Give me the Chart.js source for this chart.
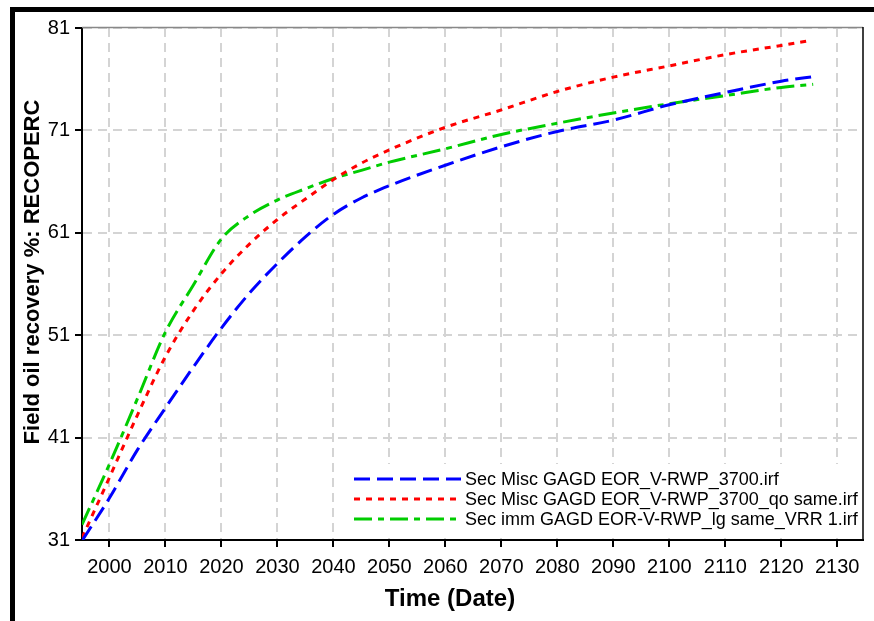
<!DOCTYPE html>
<html>
<head>
<meta charset="utf-8">
<script src="https://cdn.jsdelivr.net/npm/chart.js@4/dist/chart.umd.min.js"></script>
<style>
  html, body { margin: 0; padding: 0; background: #fff; }
  #wrap { position: relative; width: 874px; height: 621px; overflow: hidden; }
  #chart { display: block; }
  /* thick black frame, left and top edges only */
  #frame { position: absolute; left: 10px; top: 7px; right: 0; bottom: 0;
           border-left: 5px solid #000; border-top: 5px solid #000; pointer-events: none; }
</style>
</head>
<body>
<div id="wrap">
  <canvas id="chart" width="874" height="621"></canvas>
  <div id="frame"></div>
</div>
<script>
// ---- data ----
const seriesLabels = [
  'Sec Misc GAGD EOR_V-RWP_3700.irf',
  'Sec Misc GAGD EOR_V-RWP_3700_qo same.irf',
  'Sec imm GAGD EOR-V-RWP_lg same_VRR 1.irf'
];

const blueYears  = [1995.2, 2000, 2005, 2010, 2015, 2020, 2025, 2030, 2035, 2040, 2045, 2050, 2060, 2070, 2080, 2090, 2100, 2110, 2120, 2126.3];
const blueValues = [31.0, 35.1, 39.8, 43.9, 47.9, 51.7, 55.1, 58.0, 60.6, 62.8, 64.4, 65.6, 67.6, 69.4, 70.9, 72.0, 73.5, 74.7, 75.8, 76.3];

const redYears  = [1995.1, 2000, 2005, 2010, 2015, 2020, 2025, 2030, 2035, 2040, 2045, 2050, 2060, 2070, 2080, 2090, 2100, 2110, 2120, 2125.4];
const redValues = [31.2, 37.1, 43.2, 48.9, 53.4, 57.0, 59.9, 62.3, 64.3, 66.2, 67.8, 69.1, 71.3, 73.0, 74.8, 76.2, 77.3, 78.4, 79.3, 79.8];

const greenYears  = [1995.1, 2000, 2005, 2010, 2015, 2020, 2025, 2030, 2035, 2040, 2045, 2050, 2060, 2070, 2080, 2090, 2100, 2110, 2120, 2125.7];
const greenValues = [32.5, 38.4, 44.8, 51.3, 55.9, 60.4, 62.7, 64.2, 65.3, 66.3, 67.1, 67.9, 69.2, 70.6, 71.7, 72.7, 73.6, 74.4, 75.2, 75.5];

const xTickYears  = [2000, 2010, 2020, 2030, 2040, 2050, 2060, 2070, 2080, 2090, 2100, 2110, 2120, 2130];
const yTickValues = [31, 41, 51, 61, 71, 81];

const xTitle = 'Time (Date)';
const yTitle = 'Field oil recovery %: RECOPERC';

const FONT = '"Liberation Sans", Arial, sans-serif';
Chart.defaults.font.family = FONT;
Chart.defaults.color = '#000';

function toPoints(xs, ys) {
  return xs.map((x, i) => ({ x: x, y: ys[i] }));
}

// white legend box sitting inside the plot, bottom right
const legendInPlot = {
  id: 'legendInPlot',
  beforeDatasetsDraw(chart) {
    const { ctx, chartArea } = chart;
    ctx.save();
    ctx.fillStyle = '#fff';
    ctx.fillRect(342, 464, chartArea.right - 342 - 1, chartArea.bottom - 464 - 2);
    ctx.restore();
  },
  afterDatasetsDraw(chart) {
    const ctx = chart.ctx;
    ctx.save();
    ctx.font = '18px ' + FONT;
    ctx.textBaseline = 'middle';
    ctx.textAlign = 'left';
    chart.data.datasets.forEach((ds, i) => {
      const y = 479 + i * 20;
      ctx.strokeStyle = ds.borderColor;
      ctx.lineWidth = ds.borderWidth;
      ctx.setLineDash(ds.borderDash);
      ctx.beginPath();
      ctx.moveTo(354, y);
      ctx.lineTo(461, y);
      ctx.stroke();
      ctx.fillStyle = '#000';
      ctx.fillText(ds.label, 465, y + 1);
    });
    ctx.restore();
  }
};

// plot frame (top / right) and the two axis titles
const frameAndTitles = {
  id: 'frameAndTitles',
  afterDraw(chart) {
    const { ctx, chartArea } = chart;
    ctx.save();
    ctx.setLineDash([]);
    ctx.strokeStyle = '#888';
    ctx.lineWidth = 1.5;
    ctx.beginPath();
    ctx.moveTo(chartArea.left, chartArea.top - 0.5);
    ctx.lineTo(chartArea.right, chartArea.top - 0.5);
    ctx.stroke();
    ctx.strokeStyle = '#000';
    ctx.lineWidth = 1.5;
    ctx.beginPath();
    ctx.moveTo(chartArea.right, chartArea.top - 1);
    ctx.lineTo(chartArea.right, chartArea.bottom);
    ctx.stroke();

    ctx.fillStyle = '#000';
    ctx.textAlign = 'center';
    ctx.textBaseline = 'middle';
    ctx.font = 'bold 24px ' + FONT;
    ctx.fillText(xTitle, 450, 599);
    ctx.translate(33, 272);
    ctx.rotate(-Math.PI / 2);
    ctx.font = 'bold 22px ' + FONT;
    ctx.fillText(yTitle, 0, 0);
    ctx.restore();
  }
};

const gridStyle = {
  color: '#d4d4d4',
  lineWidth: 2,
  tickLength: 7,
  tickColor: '#000',
  tickWidth: 2,
  tickBorderDash: []
};

new Chart(document.getElementById('chart'), {
  type: 'line',
  data: {
    datasets: [
      {
        label: seriesLabels[0],
        data: toPoints(blueYears, blueValues),
        borderColor: '#0000ff',
        borderWidth: 3,
        borderDash: [16, 7],
        pointRadius: 0,
        cubicInterpolationMode: 'monotone'
      },
      {
        label: seriesLabels[1],
        data: toPoints(redYears, redValues),
        borderColor: '#ff0000',
        borderWidth: 3,
        borderDash: [6, 6],
        pointRadius: 0,
        cubicInterpolationMode: 'monotone'
      },
      {
        label: seriesLabels[2],
        data: toPoints(greenYears, greenValues),
        borderColor: '#00cc00',
        borderWidth: 3,
        borderDash: [18, 6, 6, 6],
        pointRadius: 0,
        cubicInterpolationMode: 'monotone'
      }
    ]
  },
  options: {
    responsive: false,
    animation: false,
    layout: { padding: { left: 0, top: 28, right: 11, bottom: 0 } },
    plugins: { legend: { display: false }, tooltip: { enabled: false } },
    scales: {
      x: {
        type: 'linear',
        min: 1995.1,
        max: 2134.6,
        afterBuildTicks: scale => { scale.ticks = xTickYears.map(v => ({ value: v })); },
        afterFit: scale => { scale.height = 81; },
        grid: gridStyle,
        border: { color: '#000', width: 2, dash: [9, 6] },
        ticks: { font: { size: 20 }, padding: 8, maxRotation: 0, autoSkip: false,
                 callback: value => String(value) }
      },
      y: {
        min: 31,
        max: 81,
        afterBuildTicks: scale => { scale.ticks = yTickValues.map(v => ({ value: v })); },
        afterFit: scale => { scale.width = 82; },
        grid: gridStyle,
        border: { color: '#000', width: 2, dash: [9, 6] },
        ticks: { font: { size: 20 }, padding: 5, callback: value => String(value) }
      }
    }
  },
  plugins: [legendInPlot, frameAndTitles]
});
</script>
</body>
</html>
